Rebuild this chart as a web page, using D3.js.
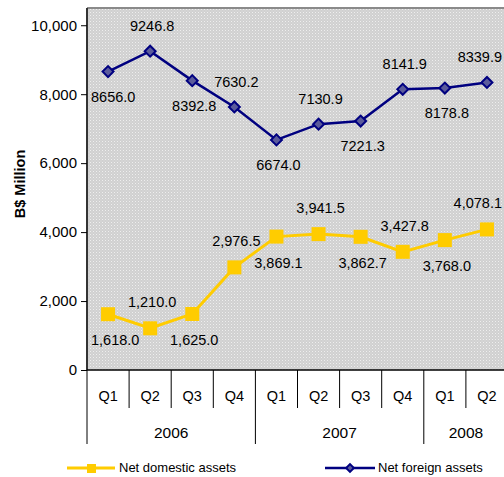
<!DOCTYPE html>
<html><head><meta charset="utf-8">
<script src="https://cdn.jsdelivr.net/npm/d3@7"></script>
<style>body{margin:0;background:#fff}svg{display:block;font-family:"Liberation Sans",Arial,sans-serif}</style>
</head><body><svg id="c" width="504" height="477"></svg>
<script>
const quarters = ["Q1","Q2","Q3","Q4","Q1","Q2","Q3","Q4","Q1","Q2"];
const years = ["2006","2006","2006","2006","2007","2007","2007","2007","2008","2008"];
const netDomestic = [1618.0,1210.0,1625.0,2976.5,3869.1,3941.5,3862.7,3427.8,3768.0,4078.1];
const netForeign = [8656.0,9246.8,8392.8,7630.2,6674.0,7130.9,7221.3,8141.9,8178.8,8339.9];
const yTicks = [0,2000,4000,6000,8000,10000];

const svg = d3.select("#c");
const W = 504;
const L = 87, R = 508, T = 8, B = 370;
const idx = quarters.map((d,i)=>i);
const x = d3.scaleBand().domain(idx).range([L,R]).padding(0);
const y = d3.scaleLinear().domain([0,10500]).range([B,T]);
const cx = i => x(i) + x.bandwidth()/2;

const defs = svg.append("defs");
const pat = defs.append("pattern").attr("id","dots").attr("width",3).attr("height",3).attr("patternUnits","userSpaceOnUse");
pat.append("rect").attr("width",3).attr("height",3).attr("fill","#d0d0d0");
pat.append("rect").attr("width",1).attr("height",1).attr("fill","#eeeeee");
pat.append("rect").attr("x",1.5).attr("y",1.5).attr("width",1).attr("height",1).attr("fill","#e2e2e2");

svg.append("rect").attr("x",L).attr("y",T).attr("width",R-L).attr("height",B-T).attr("fill","url(#dots)");
svg.append("line").attr("x1",L).attr("x2",R).attr("y1",T).attr("y2",T).attr("stroke","#8a8a8a").attr("stroke-width",2);

// y axis
const yAxis = svg.append("g").attr("transform",`translate(${L},0)`)
  .call(d3.axisLeft(y).tickValues(yTicks).tickFormat(d3.format(",")).tickSize(6).tickPadding(4));
yAxis.select(".domain").attr("stroke","#333").attr("stroke-width",2).attr("d",`M0,${B}V${T}`);
yAxis.selectAll(".tick line").attr("stroke","#000");
yAxis.selectAll("text").attr("font-size",15).attr("fill","#000").attr("font-family","Liberation Sans, Arial, sans-serif");

svg.append("text").attr("transform","translate(25,184) rotate(-90)").attr("text-anchor","middle")
  .attr("font-size",14.5).attr("font-weight","bold").text("B$ Million");

// x axis
svg.append("line").attr("x1",L).attr("x2",R).attr("y1",B).attr("y2",B).attr("stroke","#000").attr("stroke-width",1.5);
const xg = svg.append("g");
idx.forEach(i=>{
  const xb = x(i);
  const newYear = i===0 || years[i]!==years[i-1];
  xg.append("line").attr("x1",xb).attr("x2",xb).attr("y1",B).attr("y2",newYear?444:408).attr("stroke","#000");
  xg.append("text").attr("x",cx(i)).attr("y",401).attr("text-anchor","middle").attr("font-size",14.5).text(quarters[i]);
});
const yearGroups = d3.groups(idx, i=>years[i]);
yearGroups.forEach(([yr, arr])=>{
  const x0 = x(arr[0]), x1 = x(arr[arr.length-1]) + x.bandwidth();
  xg.append("text").attr("x",(x0 + x1)/2).attr("y",438).attr("text-anchor","middle").attr("font-size",15.5).text(yr);
});

// lines
const line = d3.line().x((d,i)=>cx(i)).y(d=>y(d));
svg.append("path").datum(netDomestic).attr("d",line).attr("fill","none").attr("stroke","#FFCC00").attr("stroke-width",3);
svg.append("path").datum(netForeign).attr("d",line).attr("fill","none").attr("stroke","#000080").attr("stroke-width",2.5);

svg.selectAll(".sq").data(netDomestic).enter().append("rect")
  .attr("x",(d,i)=>cx(i)-7).attr("y",d=>y(d)-7).attr("width",14).attr("height",14).attr("fill","#FFCC00");
svg.selectAll(".dm").data(netForeign).enter().append("path")
  .attr("d",d3.symbol().type(d3.symbolSquare).size(60))
  .attr("transform",(d,i)=>`translate(${cx(i)},${y(d)}) rotate(45)`)
  .attr("fill","#5b5b9b").attr("stroke","#000080").attr("stroke-width",2);

// labels
const fmtD = d3.format(",.1f"), fmtF = d3.format(".1f");
function labels(data, fmt, off){
  svg.selectAll(null).data(data).enter().append("text")
    .attr("y",(d,i)=>y(d)+(i%2===0?off:-off)+5)
    .attr("text-anchor","middle").attr("font-size",14.5).text(d=>fmt(d))
    .each(function(d,i){
      const w = this.getComputedTextLength();
      let px = cx(i)+2;
      if (px + w/2 > W-2) px = W-2-w/2;
      if (px - w/2 < L+4) px = L+4+w/2;
      d3.select(this).attr("x",px);
    });
}
labels(netDomestic, fmtD, 26);
labels(netForeign, fmtF, 25);

// legend
const lg = svg.append("g");
lg.append("line").attr("x1",67).attr("x2",115).attr("y1",468).attr("y2",468).attr("stroke","#FFCC00").attr("stroke-width",3);
lg.append("rect").attr("x",87).attr("y",464).attr("width",9).attr("height",9).attr("fill","#FFCC00");
lg.append("text").attr("x",119).attr("y",472).attr("font-size",13).text("Net domestic assets");
lg.append("line").attr("x1",325).attr("x2",375).attr("y1",468).attr("y2",468).attr("stroke","#000080").attr("stroke-width",2.5);
lg.append("path").attr("d",d3.symbol().type(d3.symbolSquare).size(30)).attr("transform","translate(350,468) rotate(45)")
  .attr("fill","#5b5b9b").attr("stroke","#000080").attr("stroke-width",2);
lg.append("text").attr("x",378).attr("y",472).attr("font-size",13).text("Net foreign assets");
</script></body></html>
